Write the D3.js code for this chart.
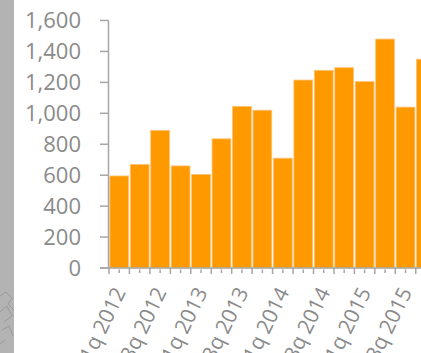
<!DOCTYPE html>
<html>
<head>
<meta charset="utf-8">
<script src="https://cdn.jsdelivr.net/npm/d3@7"></script>
<style>
  html, body { margin: 0; padding: 0; background: #fff; overflow: hidden; }
  svg { display: block; }
</style>
</head>
<body>
<div id="chart"></div>
<script>
// quarters shown in the chart
const quarters = ['1q 2012', '2q 2012', '3q 2012', '4q 2012',
                  '1q 2013', '2q 2013', '3q 2013', '4q 2013',
                  '1q 2014', '2q 2014', '3q 2014', '4q 2014',
                  '1q 2015', '2q 2015', '3q 2015', '4q 2015'];
const values = [595, 670, 890, 660, 605, 835, 1045, 1020,
                710, 1215, 1278, 1295, 1205, 1480, 1040, 1350];
const yTicks = [0, 200, 400, 600, 800, 1000, 1200, 1400, 1600];
// every second quarter gets a label
const xLabels = quarters.filter((d, i) => i % 2 === 0);

const W = 421, H = 353;
const svg = d3.select('#chart').append('svg')
    .attr('width', W)
    .attr('height', H);

// grey strip on the left edge
svg.append('rect')
    .attr('x', 0).attr('y', 0)
    .attr('width', 14).attr('height', H)
    .attr('fill', '#b3b3b3');
svg.append('path')
    .attr('d', 'M0,296 L6,292 L12,298 L8,304 L14,310 M0,312 L7,306 L12,316 L4,322 M2,330 L9,326 L13,336 M0,344 L5,340')
    .attr('fill', 'none')
    .attr('stroke', '#999')
    .attr('stroke-width', 1);

const x = d3.scaleBand()
    .domain(quarters)
    .range([109, 109 + quarters.length * 20.45])
    .paddingInner(0.08)
    .paddingOuter(0.04);

const y = d3.scaleLinear()
    .domain([0, 1600])
    .range([268, 20.5]);

const grey = '#a6a6a6';
const textGrey = '#8a8a8a';

// bars
svg.append('g').selectAll('rect')
    .data(values)
    .enter().append('rect')
    .attr('x', (d, i) => x(quarters[i]))
    .attr('y', d => y(d))
    .attr('width', x.bandwidth())
    .attr('height', d => y(0) - y(d))
    .attr('fill', '#ff9900')
    .attr('stroke', '#ffc47a')
    .attr('stroke-width', 0.8);

// y axis
const yAxis = svg.append('g');
yAxis.append('line')
    .attr('x1', 108.5).attr('x2', 108.5)
    .attr('y1', y(1600)).attr('y2', y(0))
    .attr('stroke', grey).attr('stroke-width', 1.5);
yAxis.selectAll('.ytick')
    .data(yTicks)
    .enter().append('line')
    .attr('x1', 100).attr('x2', 108.5)
    .attr('y1', d => y(d)).attr('y2', d => y(d))
    .attr('stroke', grey).attr('stroke-width', 1.5);
yAxis.selectAll('.ylab')
    .data(yTicks)
    .enter().append('text')
    .attr('x', 81)
    .attr('y', d => y(d))
    .attr('dy', '0.36em')
    .attr('text-anchor', 'end')
    .style('font-family', '"Open Sans", sans-serif')
    .style('font-size', '22px')
    .style('fill', textGrey)
    .text(d => d3.format(',')(d));

// x axis
const xAxis = svg.append('g');
xAxis.append('line')
    .attr('x1', 100).attr('x2', W)
    .attr('y1', y(0)).attr('y2', y(0))
    .attr('stroke', grey).attr('stroke-width', 1.5);
const step = x.step();
const start = x.range()[0];
// major ticks on category boundaries
xAxis.selectAll('.major')
    .data(d3.range(quarters.length + 1))
    .enter().append('line')
    .attr('x1', i => start + i * step).attr('x2', i => start + i * step)
    .attr('y1', y(0)).attr('y2', y(0) + 6)
    .attr('stroke', grey).attr('stroke-width', 1.5);
// minor ticks at category centres
xAxis.selectAll('.minor')
    .data(quarters)
    .enter().append('line')
    .attr('x1', d => x(d) + x.bandwidth() / 2).attr('x2', d => x(d) + x.bandwidth() / 2)
    .attr('y1', y(0) + 1.5).attr('y2', y(0) + 5)
    .attr('stroke', grey).attr('stroke-width', 1.5);

xAxis.selectAll('.xlab')
    .data(xLabels)
    .enter().append('text')
    .attr('transform', d => `translate(${x(d) + x.bandwidth() / 2 + 7},${292}) rotate(-64)`)
    .attr('text-anchor', 'end')
    .style('font-family', '"Open Sans", sans-serif')
    .style('font-size', '21px')
    .style('fill', textGrey)
    .text(d => d);
</script>
</body>
</html>
